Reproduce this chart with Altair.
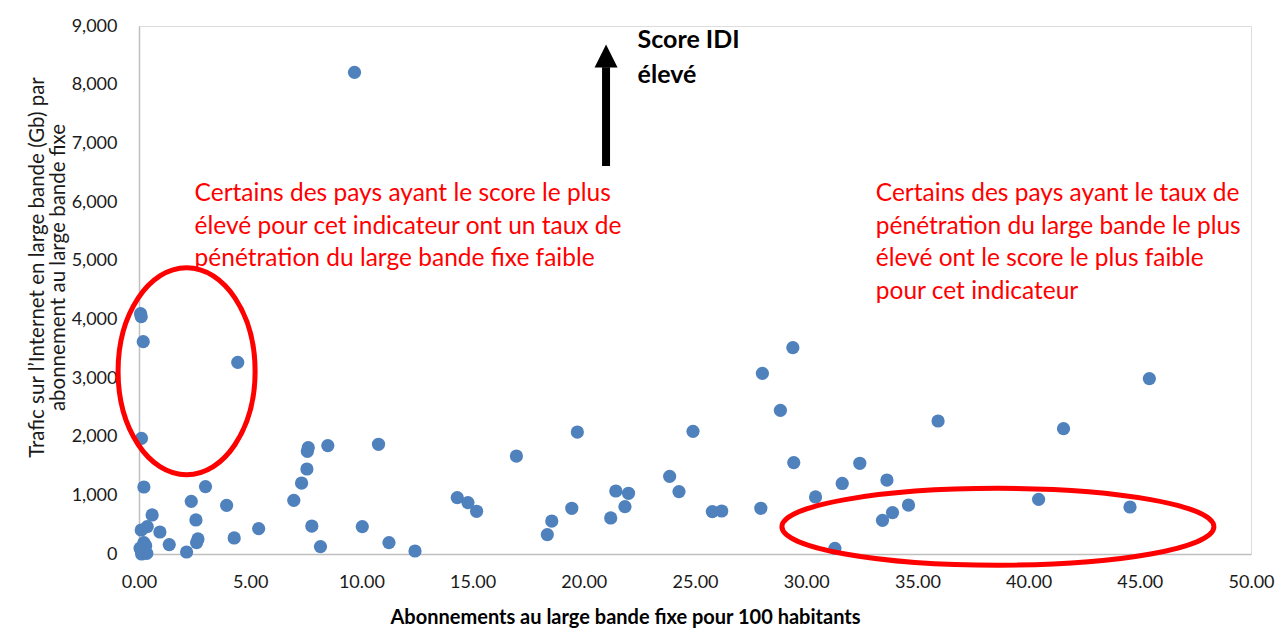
import altair as alt
import pandas as pd

# --- data ---
penetration = [9.69, 0.07, 0.10, 0.19, 4.44, 0.11, 0.22, 2.99, 2.35, 3.94,
               0.59, 2.56, 0.10, 0.37, 0.94, 1.36, 2.14, 2.65, 2.59, 4.28,
               5.38, 6.96, 7.31, 7.55, 7.57, 7.61, 8.49, 7.77, 8.16, 10.04,
               10.77, 11.24, 12.41, 14.31, 14.79, 15.18, 16.97, 18.36, 18.56, 19.46,
               19.71, 21.21, 21.44, 21.85, 22.01, 23.86, 24.28, 24.91, 25.78, 26.20,
               27.96, 28.03, 28.84, 29.40, 29.44, 30.42, 31.29, 31.62, 32.41, 33.43,
               33.63, 33.88, 34.60, 35.93, 40.45, 41.57, 44.56, 45.43,
               0.22, 0.10, 0.12, 0.35, 0.05, 0.30]
traffic = [8210, 4097, 4046, 3620, 3267, 1972, 1142, 1149, 898, 830,
           665, 580, 409, 467, 375, 160, 34, 256, 194, 273,
           433, 915, 1210, 1449, 1750, 1813, 1848, 477, 126, 467,
           1870, 194, 51, 961, 876, 728, 1670, 331, 562, 779,
           2079, 614, 1074, 808, 1035, 1324, 1064, 2091, 723, 733,
           779, 3080, 2449, 3518, 1558, 972, 97, 1202, 1546, 574,
           1261, 706, 835, 2267, 932, 2137, 801, 2990,
           194, 51, 0, 10, 100, 140]

x_ticks = [0, 5, 10, 15, 20, 25, 30, 35, 40, 45, 50]
y_ticks = [0, 1000, 2000, 3000, 4000, 5000, 6000, 7000, 8000, 9000]

x_title = "Abonnements au large bande fixe pour 100 habitants"
y_title = ["Trafic sur l\u2019Internet en large bande (Gb) par",
           "abonnement au large bande fixe"]

note_left = ("Certains des pays ayant le score le plus\n"
             "élevé pour cet indicateur ont un taux de\n"
             "pénétration du large bande fixe faible")
note_right = ("Certains des pays ayant le taux de\n"
              "pénétration du large bande le plus\n"
              "élevé ont le score le plus faible\n"
              "pour cet indicateur")
note_top = "Score IDI\nélevé"

# annotation anchors (data coordinates)
notes_x = [2.50, 33.13, 22.42]
notes_y = [6017, 6017, 8631]
ellipse_x = [2.14, 38.62]
ellipse_y = [3114, 464]
arrow_x = [21.0]
arrow_y = [6613]
arrow_y2 = [8295]
head_y = [8488]

FONT = "Lato"
BLUE = "#4F81BD"


def ellipse_path(a, b):
    k = 0.5523
    return (f"M 0 {-b} C {k*a} {-b} {a} {-k*b} {a} 0 "
            f"C {a} {k*b} {k*a} {b} 0 {b} "
            f"C {-k*a} {b} {-a} {k*b} {-a} 0 "
            f"C {-a} {-k*b} {-k*a} {-b} 0 {-b} Z")


pts = pd.DataFrame({"x": penetration, "y": traffic})
notes = pd.DataFrame({"x": notes_x, "y": notes_y,
                      "t": [note_left, note_right, note_top]})
ell_left = pd.DataFrame({"x": ellipse_x[:1], "y": ellipse_y[:1]})
ell_right = pd.DataFrame({"x": ellipse_x[1:], "y": ellipse_y[1:]})
arrow = pd.DataFrame({"x": arrow_x, "y": arrow_y, "y2": arrow_y2})
head = pd.DataFrame({"x": arrow_x, "y": head_y})

x_enc = alt.X("x:Q", scale=alt.Scale(domain=[0, 50], nice=False),
              axis=alt.Axis(values=x_ticks, format=".2f", title=x_title,
                            grid=False, ticks=False, tickSize=0,
                            labelFlush=False, labelOverlap=False,
                            labelPadding=19, labelFontSize=18, labelFont=FONT,
                            labelColor="#1a1a1a", titleFont=FONT,
                            titleFontSize=20, titleFontWeight="bold",
                            titleColor="#000000", titleX=486, titleY=63,
                            titleBaseline="middle", titleAnchor="start",
                            titleAlign="center",
                            domainColor="#BFBFBF", domainWidth=1.5))
y_enc = alt.Y("y:Q", scale=alt.Scale(domain=[0, 9000], nice=False),
              axis=alt.Axis(values=y_ticks, format=",.0f", title=y_title,
                            grid=False, ticks=False, tickSize=0,
                            labelFlush=False, labelOverlap=False,
                            labelPadding=22, labelFontSize=18, labelFont=FONT,
                            labelColor="#1a1a1a", titleFont=FONT,
                            titleFontSize=20.5, titleFontWeight="normal",
                            titleColor="#1a1a1a", titleX=-102, titleY=241,
                            titleAngle=270, titleBaseline="middle",
                            titleAlign="center", titleLineHeight=21,
                            domainColor="#BFBFBF", domainWidth=1.5))

points = alt.Chart(pts).mark_circle(size=175, color=BLUE, opacity=1).encode(
    x=x_enc, y=y_enc)

left_ell = alt.Chart(ell_left).mark_point(
    shape=ellipse_path(0.662, 1.0), size=207 ** 2, filled=False,
    stroke="#FF0000", strokeWidth=5, opacity=1).encode(x=x_enc, y=y_enc)
right_ell = alt.Chart(ell_right).mark_point(
    shape=ellipse_path(1.0, 0.178), size=432 ** 2, filled=False,
    stroke="#FF0000", strokeWidth=5, opacity=1).encode(x=x_enc, y=y_enc)

red_notes = alt.Chart(notes.iloc[:2]).mark_text(
    align="left", baseline="alphabetic", lineBreak="\n", lineHeight=32.5,
    fontSize=24.5, font=FONT, color="#FF0000").encode(x=x_enc, y=y_enc, text="t:N")
top_note = alt.Chart(notes.iloc[2:]).mark_text(
    align="left", baseline="alphabetic", lineBreak="\n", lineHeight=35,
    fontSize=25, font=FONT, fontWeight="bold", color="#000000").encode(
    x=x_enc, y=y_enc, text="t:N")

shaft = alt.Chart(arrow).mark_rule(color="#000000", strokeWidth=8).encode(
    x=x_enc, y=y_enc, y2="y2:Q")
arrow_head = alt.Chart(head).mark_point(
    shape="M 0 -1 L -1 1 L 1 1 Z", size=23 ** 2, filled=True,
    color="#000000", opacity=1).encode(x=x_enc, y=y_enc)

chart = alt.layer(points, left_ell, right_ell, red_notes, top_note, shaft,
                  arrow_head).properties(
    width=1112, height=528,
    autosize=alt.AutoSizeParams(type="none"),
    padding={"left": 131, "top": 18, "right": 28, "bottom": 77},
).configure_view(stroke=None).configure(background="white")

chart.save("out.html", embed_options={"renderer": "svg", "actions": False})
